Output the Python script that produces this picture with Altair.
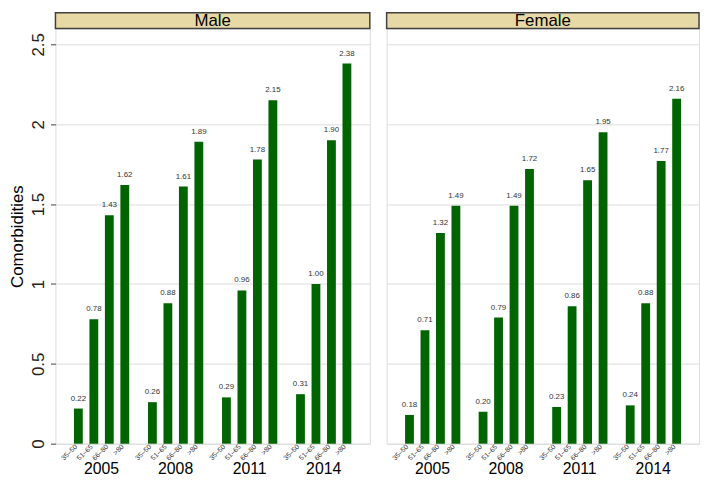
import altair as alt
import pandas as pd

sexes = ["Male", "Female"]
years = ["2005", "2008", "2011", "2014"]
ages = ["35–50", "51–65", "66–80", ">80"]

male_2005 = [0.22, 0.78, 1.43, 1.62]
male_2008 = [0.26, 0.88, 1.61, 1.89]
male_2011 = [0.29, 0.96, 1.78, 2.15]
male_2014 = [0.31, 1.00, 1.90, 2.38]

female_2005 = [0.18, 0.71, 1.32, 1.49]
female_2008 = [0.20, 0.79, 1.49, 1.72]
female_2011 = [0.23, 0.86, 1.65, 1.95]
female_2014 = [0.24, 0.88, 1.77, 2.16]

y_ticks = [0, 0.5, 1, 1.5, 2, 2.5]

BAR = "#006400"
HEADER_FILL = "#E6D9A6"
BORDER = "#404040"
FONT = "Liberation Sans"
PLOT_H = 420
HEADER_H = 16


def panel(sex, series, width, show_axis):
    rows = []
    for yr, vals in zip(years, series):
        for a, v in zip(ages, vals):
            rows.append({"year": yr, "age": a, "value": v})
    df = pd.DataFrame(rows)

    x_enc = alt.X(
        "year:N",
        sort=years,
        scale=alt.Scale(paddingInner=0, paddingOuter=0.123),
        axis=alt.Axis(
            title=None, labelAngle=0, labelFontSize=16, labelPadding=17,
            ticks=False, domain=False, labelColor="black", labelFont=FONT,
            labelBaseline="top",
        ),
    )
    xo_enc = alt.XOffset(
        "age:N", sort=ages,
        scale=alt.Scale(paddingInner=0.43, paddingOuter=0.607),
    )
    if show_axis:
        y_axis = alt.Axis(
            title="Comorbidities", titleFontSize=17, titleFont=FONT,
            titleFontWeight="normal", titleColor="black", titlePadding=3,
            values=y_ticks, format=".1~f", labelAngle=-90, labelFontSize=17,
            labelFont=FONT, labelColor="#222", labelPadding=3, tickSize=5,
            tickColor=BORDER, domain=False, grid=True, gridColor="#dcdcdc",
        )
    else:
        y_axis = alt.Axis(
            title=None, values=y_ticks, labels=False, ticks=False,
            domain=False, grid=True, gridColor="#dcdcdc",
        )
    y_scale = alt.Scale(domain=[0, 2.6], nice=False, zero=True)
    y_enc = alt.Y("value:Q", scale=y_scale, axis=y_axis)

    base = alt.Chart(df)
    bars = base.mark_bar(color=BAR).encode(x=x_enc, xOffset=xo_enc, y=y_enc)
    vlabels = base.mark_text(
        fontSize=8, dy=-10, baseline="middle", color="#333", font=FONT
    ).encode(
        x=x_enc, xOffset=xo_enc, y=y_enc,
        text=alt.Text("value:Q", format=".2f"),
    )
    alabels = base.mark_text(
        fontSize=7, angle=315, align="right", baseline="middle",
        dx=-3, color="#333", font=FONT,
    ).encode(
        x=x_enc, xOffset=xo_enc, y=alt.datum(0, scale=y_scale),
        text="age:N",
    )
    hdf = pd.DataFrame({"label": [sex]})
    hrect = alt.Chart(hdf).mark_rect(
        fill=HEADER_FILL, stroke=BORDER, strokeWidth=1.5
    ).encode(
        x=alt.value(0), x2=alt.value(width),
        y=alt.value(-HEADER_H), y2=alt.value(0),
    )
    htext = alt.Chart(hdf).mark_text(
        fontSize=17, font=FONT, color="black", baseline="middle"
    ).encode(
        x=alt.value(width / 2), y=alt.value(-HEADER_H / 2 + 0.5), text="label:N"
    )
    return alt.layer(bars, vlabels, alabels, hrect, htext).properties(
        width=width, height=PLOT_H
    )


male = panel("Male", [male_2005, male_2008, male_2011, male_2014], 318, True)
female = panel("Female", [female_2005, female_2008, female_2011, female_2014], 316, False)

chart = (
    alt.hconcat(male, female, spacing=13)
    .properties(padding=0)
    .configure_view(stroke=BORDER, strokeWidth=1)
    .configure(font=FONT)
)

chart.save("out.html", embed_options={"renderer": "svg", "actions": False})
